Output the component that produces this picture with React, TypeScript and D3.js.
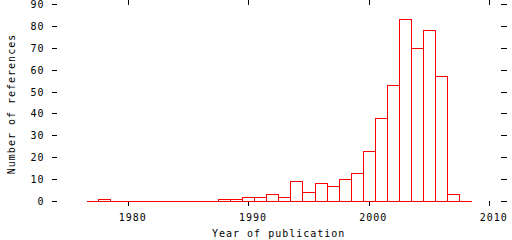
import React from "react";
import * as d3 from "d3";

const years: number[] = [1977, 1978, 1979, 1980, 1981, 1982, 1983, 1984, 1985, 1986, 1987, 1988, 1989, 1990, 1991, 1992, 1993, 1994, 1995, 1996, 1997, 1998, 1999, 2000, 2001, 2002, 2003, 2004, 2005, 2006, 2007, 2008];
const counts: number[] = [0, 1, 0, 0, 0, 0, 0, 0, 0, 0, 0, 1, 1, 2, 2, 3, 2, 9, 4, 8, 7, 10, 13, 23, 38, 53, 83, 70, 78, 57, 3, 0];
const xTicks: number[] = [1980, 1990, 2000, 2010];
const yTicks: number[] = [0, 10, 20, 30, 40, 50, 60, 70, 80, 90];
const xTitle = "Year of publication";
const yTitle = "Number of references";

const W = 512;
const H = 240;
const FONT = "'DejaVu Sans Mono', 'Liberation Mono', monospace";

export default function App() {
  const x = d3.scaleLinear().domain([1980, 2010]).range([128.5, 489.5]);
  const y = d3.scaleLinear().domain([0, 90]).range([201.5, 4.5]);
  const left = 57;
  const right = 501;
  const txt = { fontFamily: FONT, fontSize: 10, letterSpacing: 1, fill: "#000" } as React.CSSProperties;

  const snap = (v: number) => Math.round(v - 0.5) + 0.5;

  return (
    <svg width={W} height={H} style={{ position: "absolute", left: 0, top: 0, background: "#fff" }}>
      <rect x={0} y={0} width={W} height={H} fill="#fff" />
      {/* y ticks left and right */}
      {yTicks.map((t) => (
        <g key={"y" + t}>
          <line x1={left - 5} x2={left} y1={snap(y(t))} y2={snap(y(t))} stroke="#000" strokeWidth={1} shapeRendering="crispEdges" />
          <line x1={right} x2={right + 6} y1={snap(y(t))} y2={snap(y(t))} stroke="#000" strokeWidth={1} shapeRendering="crispEdges" />
          <text x={44.5} y={snap(y(t)) + 3.5} textAnchor="end" style={txt}>{t}</text>
        </g>
      ))}
      {/* x ticks bottom and top */}
      {xTicks.map((t) => (
        <g key={"x" + t}>
          <line x1={snap(x(t))} x2={snap(x(t))} y1={201} y2={206} stroke="#000" strokeWidth={1} shapeRendering="crispEdges" />
          <line x1={snap(x(t))} x2={snap(x(t))} y1={0} y2={5} stroke="#000" strokeWidth={1} shapeRendering="crispEdges" />
          <text x={x(t) + 4.2} y={221} textAnchor="middle" style={txt}>{t}</text>
        </g>
      ))}
      {/* histogram boxes */}
      {years.map((yr, i) => {
        const x0 = snap(x(yr - 0.5));
        const x1 = snap(x(yr + 0.5));
        const y0 = snap(y(counts[i]));
        const yb = snap(y(0));
        return (
          <path
            key={"b" + yr}
            d={`M${x0},${yb}L${x0},${y0}L${x1},${y0}L${x1},${yb}Z`}
            fill="none"
            stroke="#ff0000"
            strokeWidth={1}
            shapeRendering="crispEdges"
          />
        );
      })}
      <text x={212} y={236.5} textAnchor="start" style={txt}>{xTitle}</text>
      <text transform="translate(15,104) rotate(-90)" textAnchor="middle" style={txt}>{yTitle}</text>
    </svg>
  );
}
